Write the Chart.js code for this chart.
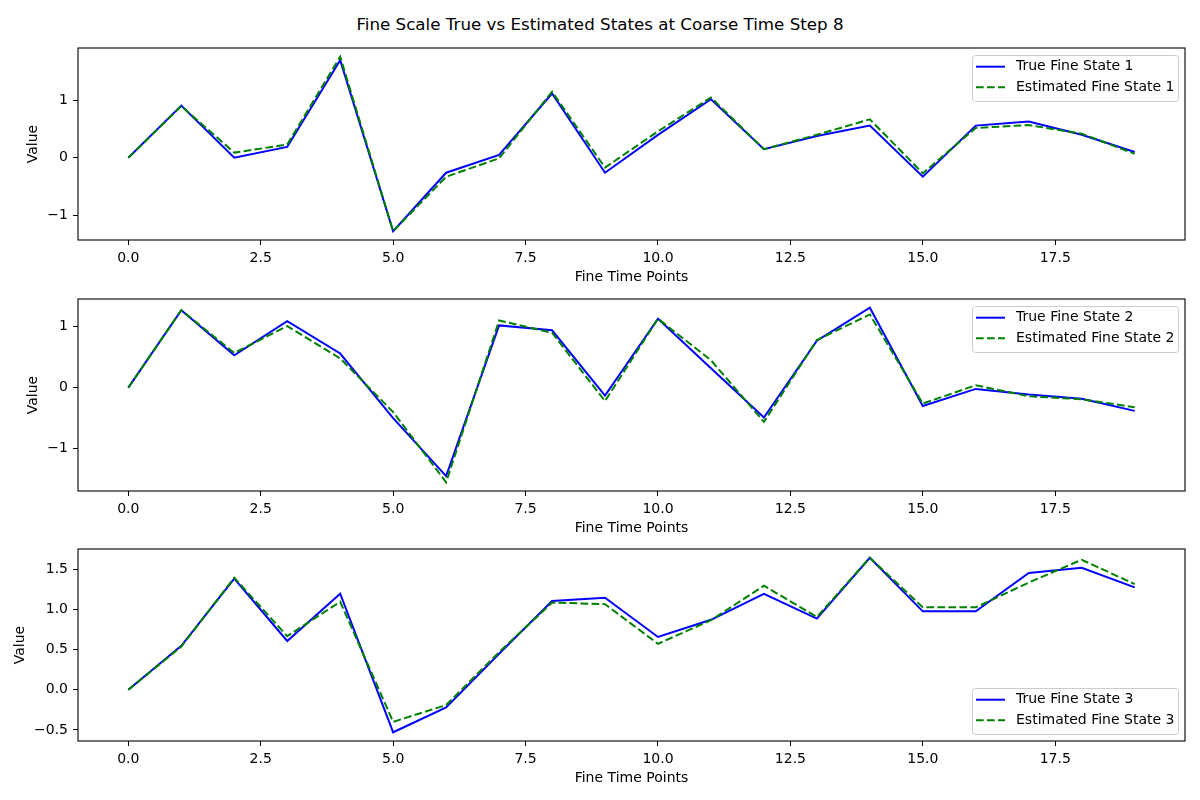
<!DOCTYPE html>
<html>
<head>
<meta charset="utf-8">
<script src="https://cdn.jsdelivr.net/npm/chart.js@4/dist/chart.umd.min.js"></script>
<style>
  body { margin: 0; background: #fff; width: 1200px; height: 800px; position: relative; overflow: hidden; }
  #suptitle { position: absolute; left: 0; top: 14px; width: 1200px; text-align: center;
    font-family: "DejaVu Sans", sans-serif; font-size: 16.7px; line-height: 20px; color: #000; }
  canvas { position: absolute; left: 0; }
</style>
</head>
<body>
<div id="suptitle">Fine Scale True vs Estimated States at Coarse Time Step 8</div>
<canvas id="c1" width="1200" height="250" style="top:38px"></canvas>
<canvas id="c2" width="1200" height="250" style="top:289px"></canvas>
<canvas id="c3" width="1200" height="250" style="top:539px"></canvas>
<script>
// fine time points
var fineTime = [0, 1, 2, 3, 4, 5, 6, 7, 8, 9, 10, 11, 12, 13, 14, 15, 16, 17, 18, 19];

// state 1
var true1 = [0, 0.91, 0.0, 0.19, 1.70, -1.28, -0.26, 0.05, 1.12, -0.26, 0.40, 1.02, 0.15, 0.38, 0.56, -0.33, 0.56, 0.63, 0.40, 0.10];
var est1  = [0, 0.90, 0.09, 0.23, 1.76, -1.28, -0.33, -0.01, 1.15, -0.17, 0.46, 1.05, 0.15, 0.40, 0.67, -0.27, 0.52, 0.57, 0.42, 0.07];

// state 2
var true2 = [0, 1.27, 0.53, 1.09, 0.56, -0.50, -1.45, 1.02, 0.94, -0.13, 1.13, 0.32, -0.49, 0.77, 1.31, -0.30, -0.02, -0.11, -0.18, -0.38];
var est2  = [0, 1.27, 0.57, 1.01, 0.48, -0.40, -1.55, 1.10, 0.90, -0.22, 1.13, 0.45, -0.56, 0.78, 1.20, -0.26, 0.04, -0.14, -0.19, -0.32];

// state 3
var true3 = [0, 0.55, 1.39, 0.61, 1.20, -0.53, -0.22, 0.45, 1.11, 1.15, 0.66, 0.875, 1.20, 0.89, 1.65, 0.98, 0.98, 1.46, 1.525, 1.28];
var est3  = [0, 0.54, 1.40, 0.67, 1.10, -0.40, -0.19, 0.47, 1.09, 1.07, 0.575, 0.87, 1.30, 0.91, 1.65, 1.03, 1.03, 1.34, 1.625, 1.32];

var xTickStep = 2.5;

Chart.defaults.font.family = '"DejaVu Sans", sans-serif';
Chart.defaults.font.size = 14;
Chart.defaults.color = '#000';

function fmt(v, dec) {
  var s = Math.abs(v).toFixed(dec);
  if (v < 0 && Number(s) !== 0) s = '\u2212' + s;
  return s;
}

// black box around the plot area, like mpl spines
var frame = {
  id: 'frame',
  afterDatasetsDraw: function(chart) {
    var a = chart.chartArea, ctx = chart.ctx;
    ctx.save();
    ctx.strokeStyle = '#000';
    ctx.lineWidth = 1.1;
    ctx.strokeRect(a.left, a.top, a.right - a.left, a.bottom - a.top);
    ctx.restore();
  }
};

// legend box drawn inside the axes
var boxLegend = {
  id: 'boxLegend',
  afterDraw: function(chart, args, opts) {
    var a = chart.chartArea, ctx = chart.ctx;
    var w = 206, h = 46;
    var x = a.right - 7 - w;
    var y = opts.where === 'lower' ? a.bottom - 7 - h : a.top + 7;
    ctx.save();
    ctx.beginPath();
    ctx.roundRect(x + 0.5, y + 0.5, w, h, 3);
    ctx.fillStyle = 'rgba(255,255,255,0.8)';
    ctx.fill();
    ctx.strokeStyle = '#cccccc';
    ctx.lineWidth = 1;
    ctx.stroke();
    chart.data.datasets.forEach(function(ds, i) {
      var cy = y + 11.7 + i * 20.6;
      ctx.beginPath();
      ctx.strokeStyle = ds.borderColor;
      ctx.lineWidth = ds.borderWidth;
      ctx.setLineDash(ds.borderDash || []);
      ctx.moveTo(x + 4, cy);
      ctx.lineTo(x + 33, cy);
      ctx.stroke();
      ctx.setLineDash([]);
      ctx.fillStyle = '#000';
      ctx.font = '14px "DejaVu Sans", sans-serif';
      ctx.textBaseline = 'middle';
      ctx.textAlign = 'left';
      ctx.fillText(ds.label, x + 44, cy);
    });
    ctx.restore();
  }
};

function pts(vals) {
  return vals.map(function(v, i) { return { x: fineTime[i], y: v }; });
}

function makePanel(id, n, trueVals, estVals, yStep, yDec, where, yTitlePad) {
  var all = trueVals.concat(estVals);
  var lo = Math.min.apply(null, all), hi = Math.max.apply(null, all);
  var m = (hi - lo) * 0.05;
  var xm = (fineTime[fineTime.length - 1] - fineTime[0]) * 0.05;

  new Chart(document.getElementById(id), {
    type: 'line',
    data: {
      datasets: [
        { label: 'True Fine State ' + n, data: pts(trueVals), borderColor: '#0000ff',
          borderWidth: 2, pointRadius: 0, tension: 0, fill: false, order: 1 },
        { label: 'Estimated Fine State ' + n, data: pts(estVals), borderColor: '#008000',
          borderWidth: 2, borderDash: [7.7, 3.3], pointRadius: 0, tension: 0, fill: false, order: 0 }
      ]
    },
    options: {
      responsive: false,
      animation: false,
      devicePixelRatio: 1,
      layout: { padding: { top: 10, right: 15, left: 0, bottom: 0 } },
      plugins: {
        legend: { display: false },
        tooltip: { enabled: false },
        boxLegend: { where: where }
      },
      scales: {
        x: {
          type: 'linear',
          min: fineTime[0] - xm,
          max: fineTime[fineTime.length - 1] + xm,
          afterFit: function(s) { s.height = 48; s.paddingLeft = 0; s.paddingRight = 0; },
          border: { display: false },
          grid: { drawOnChartArea: false, drawTicks: true, tickLength: 5, color: '#000' },
          ticks: { stepSize: xTickStep, includeBounds: false, padding: 5, maxRotation: 0,
            callback: function(v) { return fmt(v, 1); } },
          title: { display: true, text: 'Fine Time Points', padding: { top: 0, bottom: 2 } }
        },
        y: {
          min: lo - m,
          max: hi + m,
          afterFit: function(s) { s.width = 78; s.paddingTop = 0; s.paddingBottom = 0; },
          border: { display: false },
          grid: { drawOnChartArea: false, drawTicks: true, tickLength: 5, color: '#000' },
          ticks: { stepSize: yStep, includeBounds: false, padding: 5,
            callback: function(v) { return fmt(v, yDec); } },
          title: { display: true, text: 'Value', padding: { top: yTitlePad, bottom: 0 } }
        }
      }
    },
    plugins: [frame, boxLegend]
  });
}

makePanel('c1', 1, true1, est1, 1, 0, 'upper', 25);
makePanel('c2', 2, true2, est2, 1, 0, 'upper', 25);
makePanel('c3', 3, true3, est3, 0.5, 1, 'lower', 12);
</script>
</body>
</html>
